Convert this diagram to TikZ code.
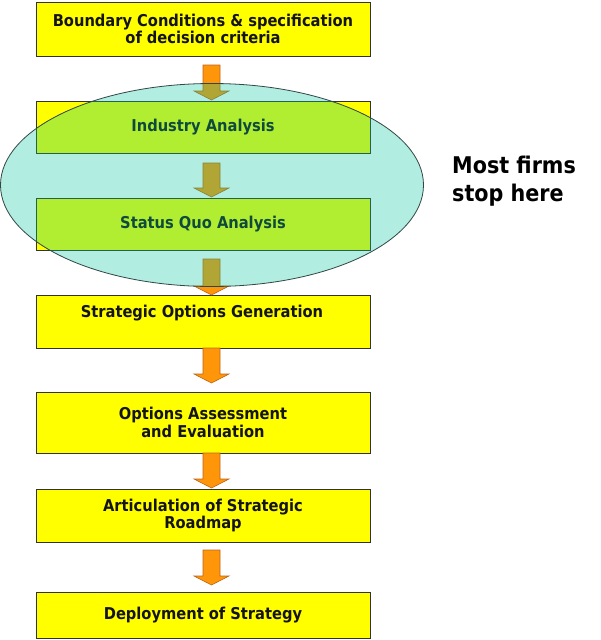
\documentclass[tikz,border=0pt]{standalone}
\usepackage{fontspec}
\setmainfont{DejaVu Sans Condensed}[BoldFont={DejaVu Sans Condensed Bold}]
\definecolor{boxyellow}{RGB}{255,255,0}
\definecolor{arroworange}{RGB}{255,150,10}
\definecolor{arrowedge}{RGB}{190,100,20}
\definecolor{ovalfill}{RGB}{6,200,155}
\definecolor{ovaledge}{RGB}{50,70,70}
\definecolor{txtcol}{RGB}{20,20,20}
\tikzset{
  stepbox/.style={draw=black!80, line width=0.8pt, fill=boxyellow, minimum width=334pt,
    inner sep=0pt, text=txtcol, font=\bfseries\fontsize{16.3}{17.7}\selectfont, align=center},
  steptext/.style={inner sep=0pt, text=txtcol, font=\bfseries\fontsize{16.3}{17.7}\selectfont, align=center},
  blockarrow/.style={draw=arrowedge, line width=0.6pt, fill=arroworange},
  oval/.style={draw=ovaledge, line width=0.8pt, fill=ovalfill, fill opacity=0.31},
  note/.style={inner sep=0pt, anchor=north west, align=left, text=black,
    font=\bfseries\fontsize{23}{28}\selectfont}
}
\newcommand\downarrowblock[4]{% name, x, ytop, ybottom
  \coordinate (#1) at (#2,#3);
  \draw[blockarrow] (#2-8.5,#3) -- (#2+8.5,#3) -- (#2+8.5,#4-9) -- (#2+17.5,#4-9)
    -- (#2,#4) -- (#2-17.5,#4-9) -- (#2-8.5,#4-9) -- cycle;}
\begin{document}
\begin{tikzpicture}[x=1pt,y=-1pt]
\useasboundingbox (0,0) rectangle (600,640);
\fill[white] (0,0) rectangle (600,640);
% boxes
\node[stepbox, minimum height=54pt] (b1) at (203,29) {Boundary Conditions \& specification\\of decision criteria};
\node[stepbox, minimum height=52pt] (b2) at (203,127) {Industry Analysis};
\node[stepbox, minimum height=52pt] (b3) at (203,224) {Status Quo Analysis};
\node[stepbox, minimum height=53pt] (b4) at (203,321.5) {};
\node[steptext] (t4) at (202,313) {Strategic Options Generation};
\node[stepbox, minimum height=61pt] (b5) at (203,422.5) {Options Assessment\\and Evaluation};
\node[stepbox, minimum height=53pt] (b6) at (203,515.5) {Articulation of Strategic\\Roadmap};
\node[stepbox, minimum height=46pt] (b7) at (203,615) {Deployment of Strategy};
% block arrows
\downarrowblock{a1}{211.5}{65}{100}
\downarrowblock{a2}{211.5}{163}{197}
\downarrowblock{a3}{211.5}{259}{295}
\downarrowblock{a4}{211.5}{348}{383}
\downarrowblock{a5}{211.5}{453}{488}
\downarrowblock{a6}{211.5}{550}{585}
% oval
\draw[oval] (212,185) ellipse [x radius=211.5pt, y radius=101.5pt];
\coordinate (oc) at (212,185);
% note
\node[note] (n) at (452,156) {Most firms\\stop here};
\end{tikzpicture}
\end{document}
